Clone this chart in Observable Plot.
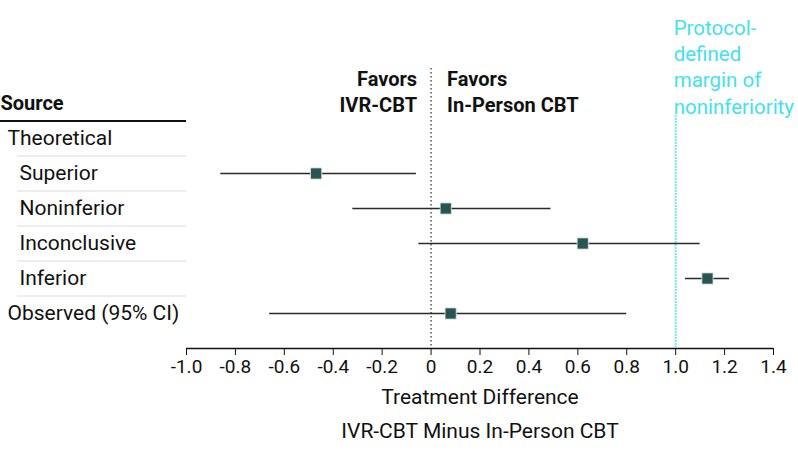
<!DOCTYPE html>
<html>
<head>
<meta charset="utf-8">
<script src="https://cdn.jsdelivr.net/npm/d3@7"></script>
<script src="https://cdn.jsdelivr.net/npm/@observablehq/plot@0.6"></script>
<style>
  body { margin: 0; background: white; }
  #wrap { position: relative; width: 798px; height: 462px; }
  #wrap svg { position: absolute; left: 0; top: 0; }
</style>
</head>
<body>
<div id="wrap"></div>
<script>
// Table rows (top to bottom)
const rowLabels = ["Source", "Theoretical", "Superior", "Noninferior", "Inconclusive", "Inferior", "Observed (95% CI)"];
const rowLevel  = ["header", "top", "sub", "sub", "sub", "sub", "top"];

// Estimates with 95% CI
const sources  = ["Superior", "Noninferior", "Inconclusive", "Inferior", "Observed (95% CI)"];
const estimate = [-0.47, 0.06, 0.62, 1.13, 0.08];
const lower    = [-0.86, -0.32, -0.05, 1.04, -0.66];
const upper    = [-0.06, 0.49, 1.10, 1.22, 0.80];

const tickValues = [-1.0, -0.8, -0.6, -0.4, -0.2, 0, 0.2, 0.4, 0.6, 0.8, 1.0, 1.2, 1.4];
const margin = 1.0;

const FONT = "Roboto, 'Liberation Sans', sans-serif";
const CYAN = "#44e1ef";

const rows = rowLabels.map((label, i) => ({label, i, level: rowLevel[i]}));
const data = sources.map((s, k) => ({source: s, i: rowLabels.indexOf(s), est: estimate[k], lo: lower[k], hi: upper[k]}));

const W = 798, H = 462, MT = 103, MB = 114, ML = 186, MR = 25;
const yScale = {domain: [0, rowLabels.length], reverse: true, axis: null};

const fmt = v => Math.abs(v) < 1e-9 ? "0" : v.toFixed(1);

const main = Plot.plot({
  width: W, height: H,
  marginTop: MT, marginBottom: MB, marginLeft: ML, marginRight: MR,
  style: {fontFamily: FONT, fontSize: "19px", color: "#111", background: "transparent", overflow: "visible"},
  x: {domain: [-1, 1.4], ticks: tickValues, tickFormat: fmt, tickSize: 7, tickPadding: 4, label: null},
  y: yScale,
  marks: [
    Plot.ruleY([rowLabels.length], {stroke: "#111", strokeWidth: 1.5}),
    Plot.ruleX([0], {y1: -1, y2: rowLabels.length, stroke: "#555", strokeWidth: 1.5, strokeDasharray: "1.5,2.5"}),
    Plot.ruleX([margin], {y1: 0.35, y2: rowLabels.length, stroke: CYAN, strokeWidth: 2, strokeDasharray: "1.5,1.5"}),
    Plot.ruleY(data, {y: "i", x1: "lo", x2: "hi", stroke: "#2b2b2b", strokeWidth: 1.5}),
    Plot.dot(data, {x: "est", y: "i", symbol: "square", r: 6.3, fill: "#285452", stroke: "#dfe8e8", strokeWidth: 0.8}),
    Plot.text(["Favors\nIVR-CBT"], {x: 0, y: 0, textAnchor: "end", lineAnchor: "bottom", dx: -14, dy: 8, lineHeight: 1.3, fontWeight: "bold", fontSize: 20, fill: "#111"}),
    Plot.text(["Favors\nIn-Person CBT"], {x: 0, y: 0, textAnchor: "start", lineAnchor: "bottom", dx: 16, dy: 8, lineHeight: 1.3, fontWeight: "bold", fontSize: 20, fill: "#111"}),
    Plot.text(["Protocol-\ndefined\nmargin of\nnoninferiority"], {x: margin, y: 0, textAnchor: "start", lineAnchor: "bottom", dx: -2, dy: 10, lineHeight: 1.27, fontSize: 20.5, fill: CYAN}),
    Plot.text(["Treatment Difference"], {frameAnchor: "bottom", dy: 55, fontSize: 21, fill: "#111"}),
    Plot.text(["IVR-CBT Minus In-Person CBT"], {frameAnchor: "bottom", dy: 89, fontSize: 21, fill: "#111"})
  ]
});

const table = Plot.plot({
  width: ML, height: H,
  marginTop: MT, marginBottom: MB, marginLeft: 0, marginRight: 0,
  style: {fontFamily: FONT, fontSize: "21px", background: "transparent", overflow: "visible"},
  x: {domain: [0, 1], axis: null},
  y: yScale,
  marks: [
    Plot.ruleY([0.5], {stroke: "#111", strokeWidth: 2}),
    Plot.ruleY(d3.range(1, rowLabels.length - 1).map(i => i + 0.5), {stroke: "#dcdcdc", strokeWidth: 1.2, insetLeft: 17}),
    Plot.text(rows, {filter: d => d.level === "header", y: "i", text: "label", frameAnchor: "left", textAnchor: "start", fontWeight: "bold", fontSize: 20, fill: "#111"}),
    Plot.text(rows, {filter: d => d.level === "top", y: "i", text: "label", frameAnchor: "left", textAnchor: "start", dx: 7, fontSize: 21, fill: "#111"}),
    Plot.text(rows, {filter: d => d.level === "sub", y: "i", text: "label", frameAnchor: "left", textAnchor: "start", dx: 19, fontSize: 21, fill: "#111"})
  ]
});

const wrap = document.getElementById("wrap");
wrap.appendChild(main);
wrap.appendChild(table);
</script>
</body>
</html>
